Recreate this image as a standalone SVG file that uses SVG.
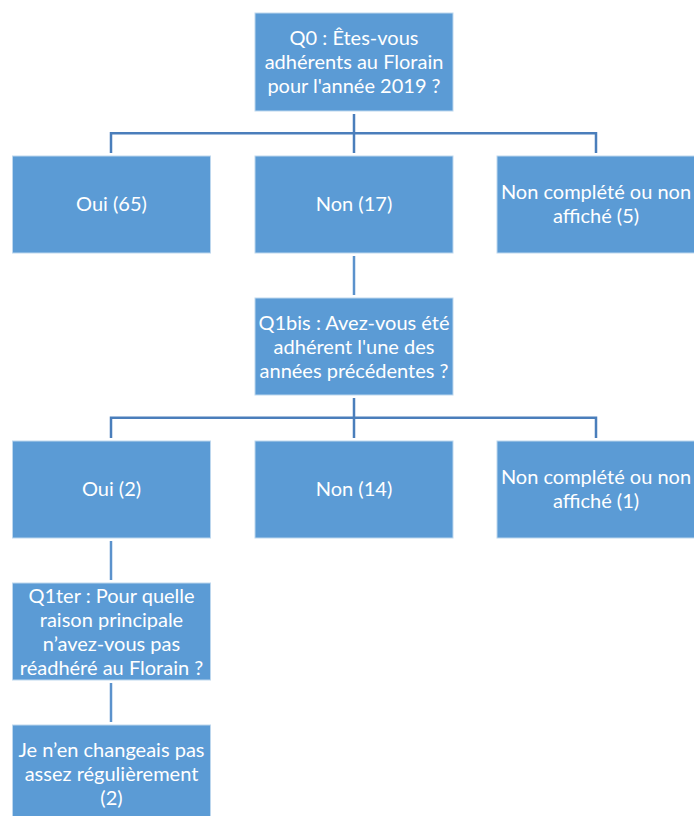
<svg xmlns="http://www.w3.org/2000/svg" width="694" height="816" viewBox="0 0 694 816">
<style>
.box{fill:#5B9BD5;stroke:#BDD7EE;stroke-width:1}
.t{font-family:Lato,"Liberation Sans",sans-serif;font-size:20px;fill:#FFFFFF;text-anchor:middle}
.bus{fill:none;stroke:#4A7EBB;stroke-width:2.5}
.ln{fill:none;stroke:#5B92CC;stroke-width:2.5}
</style>
<rect width="694" height="816" fill="#FFFFFF"/>
<g id="connectors">
<path class="bus" d="M354,114 V153 M111,153 V133.3 H596 V153"/>
<path class="ln" d="M354,256 V295"/>
<path class="bus" d="M354,398 V438 M111,438 V417.7 H596 V438"/>
<path class="ln" d="M111,541 V580"/>
<path class="ln" d="M111,683 V722"/>
</g>
<g id="q0">
<rect class="box" x="255" y="13" width="198" height="98"/>
<text class="t" x="354" y="45">Q0 : Êtes-vous</text>
<text class="t" x="354" y="69">adhérents au Florain</text>
<text class="t" x="354" y="93">pour l'année 2019 ?</text>
</g>
<g id="oui65">
<rect class="box" x="12.5" y="156" width="198" height="97"/>
<text class="t" x="111.5" y="211">Oui (65)</text>
</g>
<g id="non17">
<rect class="box" x="255" y="156" width="198" height="97"/>
<text class="t" x="354" y="211">Non (17)</text>
</g>
<g id="nc5">
<rect class="box" x="497" y="156" width="198" height="97"/>
<text class="t" x="596" y="199">Non complété ou non</text>
<text class="t" x="596" y="223">affiché (5)</text>
</g>
<g id="q1bis">
<rect class="box" x="255" y="298" width="198" height="97"/>
<text class="t" x="354" y="330">Q1bis : Avez-vous été</text>
<text class="t" x="354" y="354">adhérent l'une des</text>
<text class="t" x="354" y="378">années précédentes ?</text>
</g>
<g id="oui2">
<rect class="box" x="12.5" y="441" width="198" height="97"/>
<text class="t" x="111.5" y="496">Oui (2)</text>
</g>
<g id="non14">
<rect class="box" x="255" y="441" width="198" height="97"/>
<text class="t" x="354" y="496">Non (14)</text>
</g>
<g id="nc1">
<rect class="box" x="497" y="441" width="198" height="97"/>
<text class="t" x="596" y="484">Non complété ou non</text>
<text class="t" x="596" y="508">affiché (1)</text>
</g>
<g id="q1ter">
<rect class="box" x="12.5" y="583" width="198" height="97"/>
<text class="t" x="111.5" y="603">Q1ter : Pour quelle</text>
<text class="t" x="111.5" y="627">raison principale</text>
<text class="t" x="111.5" y="651">n’avez-vous pas</text>
<text class="t" x="111.5" y="675">réadhéré au Florain ?</text>
</g>
<g id="rep">
<rect class="box" x="12.5" y="725" width="198" height="97"/>
<text class="t" x="111.5" y="757">Je n’en changeais pas</text>
<text class="t" x="111.5" y="781">assez régulièrement</text>
<text class="t" x="111.5" y="805">(2)</text>
</g>
</svg>
